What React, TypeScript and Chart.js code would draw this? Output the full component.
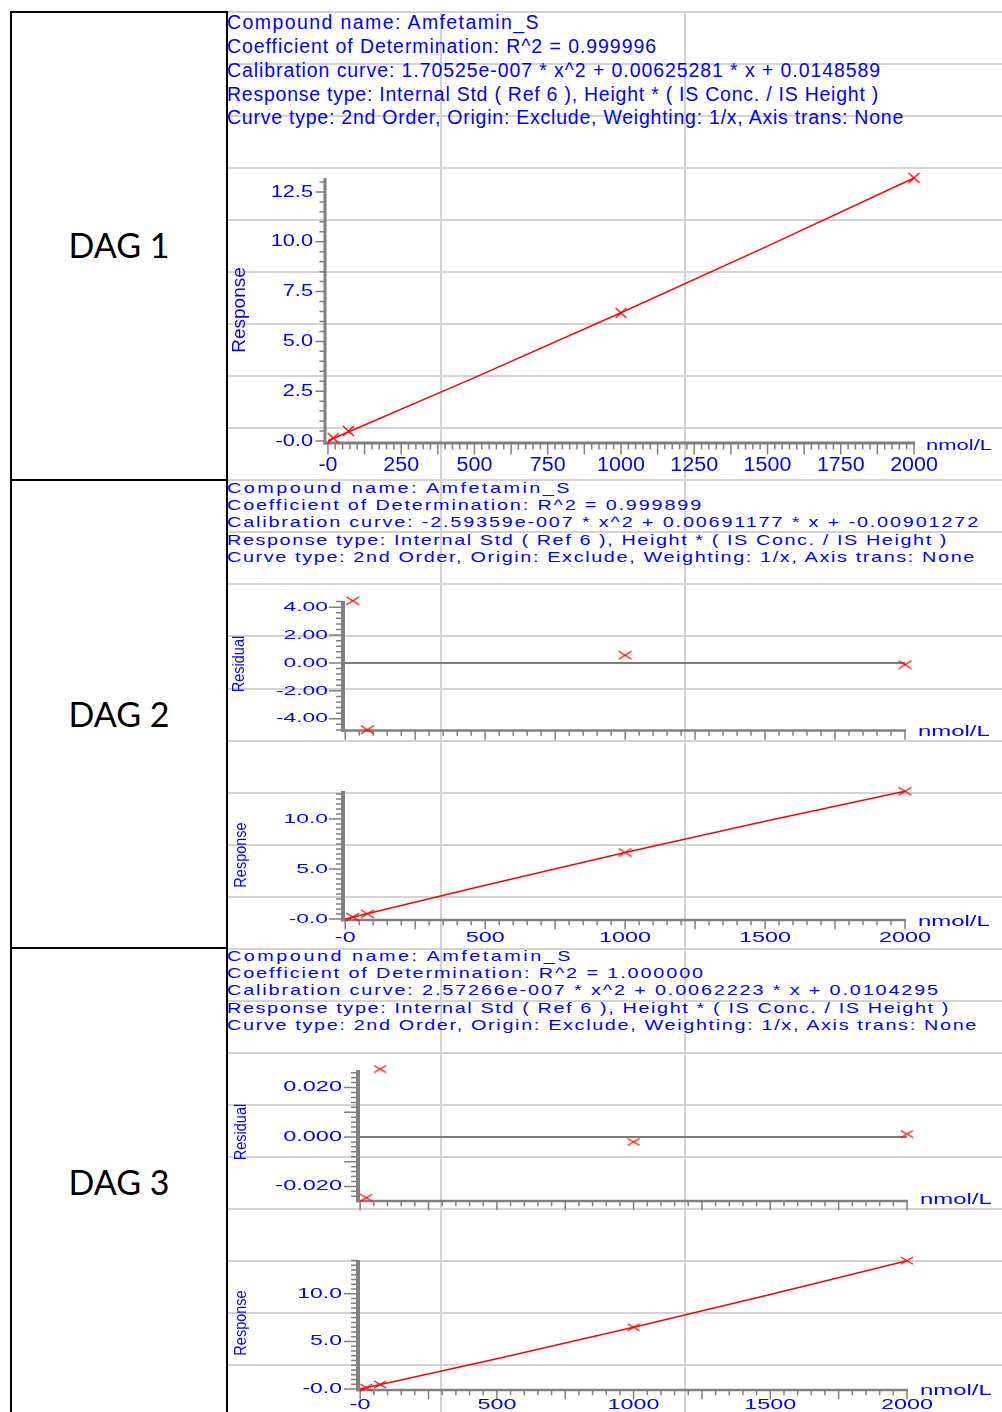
import React, { useEffect, useLayoutEffect, useRef } from 'react';
import { Chart, registerables } from 'chart.js';

Chart.register(...registerables);

// ---------------- data ----------------
const X_UNIT = 'nmol/L';
const DAG_NAMES = ['DAG 1', 'DAG 2', 'DAG 3'];

const DAG1_HEADER = [
  'Compound name: Amfetamin_S',
  'Coefficient of Determination: R^2 = 0.999996',
  'Calibration curve: 1.70525e-007 * x^2 + 0.00625281 * x + 0.0148589',
  'Response type: Internal Std ( Ref 6 ), Height * ( IS Conc. / IS Height )',
  'Curve type: 2nd Order, Origin: Exclude, Weighting: 1/x, Axis trans: None',
];
const DAG2_HEADER = [
  'Compound name: Amfetamin_S',
  'Coefficient of Determination: R^2 = 0.999899',
  'Calibration curve: -2.59359e-007 * x^2 + 0.00691177 * x + -0.00901272',
  'Response type: Internal Std ( Ref 6 ), Height * ( IS Conc. / IS Height )',
  'Curve type: 2nd Order, Origin: Exclude, Weighting: 1/x, Axis trans: None',
];
const DAG3_HEADER = [
  'Compound name: Amfetamin_S',
  'Coefficient of Determination: R^2 = 1.000000',
  'Calibration curve: 2.57266e-007 * x^2 + 0.0062223 * x + 0.0104295',
  'Response type: Internal Std ( Ref 6 ), Height * ( IS Conc. / IS Height )',
  'Curve type: 2nd Order, Origin: Exclude, Weighting: 1/x, Axis trans: None',
];

// DAG 1
const DAG1_CONC = [18, 70, 1000, 2000];
const DAG1_RESPONSE = [0.15, 0.5, 6.43, 13.2];
const DAG1_CURVE_CONC = [0, 500, 1000, 1500, 2000];
const DAG1_CURVE_RESPONSE = [0.015, 3.18, 6.44, 9.78, 13.2];
const DAG1_X_TICKS = [0, 250, 500, 750, 1000, 1250, 1500, 1750, 2000];
const DAG1_X_LABELS = ['-0', '250', '500', '750', '1000', '1250', '1500', '1750', '2000'];
const DAG1_Y_TICKS = [0, 2.5, 5, 7.5, 10, 12.5];
const DAG1_Y_LABELS = ['-0.0', '2.5', '5.0', '7.5', '10.0', '12.5'];

// DAG 2
const DAG2_CONC = [27, 79, 1000, 2000];
const DAG2_RESPONSE = [0.2, 0.52, 6.65, 12.78];
const DAG2_RESIDUAL = [4.46, -4.78, 0.55, -0.12];
const DAG2_CURVE_CONC = [0, 500, 1000, 1500, 2000];
const DAG2_CURVE_RESPONSE = [-0.01, 3.38, 6.64, 9.78, 12.78];
const DAG2_RES_Y_TICKS = [-4, -2, 0, 2, 4];
const DAG2_RES_Y_LABELS = ['-4.00', '-2.00', '0.00', '2.00', '4.00'];
const DAG2_Y_TICKS = [0, 5, 10];
const DAG2_Y_LABELS = ['-0.0', '5.0', '10.0'];

// DAG 3
const DAG3_CONC = [22, 73, 1000, 2000];
const DAG3_RESPONSE = [0.15, 0.48, 6.49, 13.48];
const DAG3_RESIDUAL = [-0.0246, 0.0275, -0.002, 0.0012];
const DAG3_CURVE_CONC = [0, 500, 1000, 1500, 2000];
const DAG3_CURVE_RESPONSE = [0.01, 3.19, 6.49, 9.92, 13.48];
const DAG3_RES_Y_TICKS = [-0.02, 0, 0.02];
const DAG3_RES_Y_LABELS = ['-0.020', '0.000', '0.020'];
const DAG3_Y_TICKS = [0, 5, 10];
const DAG3_Y_LABELS = ['-0.0', '5.0', '10.0'];

// shared x ticks for DAG 2 / 3
const X_TICKS_500 = [0, 500, 1000, 1500, 2000];
const X_LABELS_500 = ['-0', '500', '1000', '1500', '2000'];

// ---------------- styles ----------------
const BLUE = '#0000ff';
const RED = '#ff0000';
const AXIS_GRAY = '#808080';
const GRID_GRAY = '#d3d3d3';
const FONT = '"Liberation Sans", Arial, sans-serif';

type Box = { left: number; top: number; width: number; height: number };
type Area = { left: number; top: number; right: number; bottom: number };
type AxisSpec = {
  min: number; max: number;
  ticks: number[]; labels: string[];
  majorStep: number; minorStep: number;
  majorLen: number; minorLen: number;
  font: number; sx: number; labelPos: number; lineW: number;
};
type PanelSpec = {
  box: Box; area: Area; x: AxisSpec; y: AxisSpec;
  title: { text: string; cx: number; cy: number; font: number; thick: number };
  unit: { left: number; cy: number; font: number; sx: number };
  residual: boolean;
  px: number[]; py: number[];
  cx?: number[]; cy?: number[];
  marker: { w: number; h: number };
};

function xAxis(o: Partial<AxisSpec>): AxisSpec {
  return {
    min: -8, max: 2000, ticks: [], labels: [], majorStep: 250, minorStep: 50,
    majorLen: 8, minorLen: 4, font: 14, sx: 1.67, labelPos: 0, lineW: 2.5, ...o,
  } as AxisSpec;
}

const PANELS: PanelSpec[] = [
  {
    box: { left: 228, top: 140, width: 774, height: 340 },
    area: { left: 325, top: 178, right: 914, bottom: 443 },
    x: xAxis({ min: -10, max: 2000, ticks: DAG1_X_TICKS, labels: DAG1_X_LABELS, majorStep: 125, minorStep: 25, majorLen: 10, minorLen: 5, font: 19.5, sx: 1.1, labelPos: 465.5, lineW: 3 }),
    y: { min: -0.1, max: 13.2, ticks: DAG1_Y_TICKS, labels: DAG1_Y_LABELS, majorStep: 2.5, minorStep: 0.5, majorLen: 8, minorLen: 4, font: 17, sx: 1.28, labelPos: 313, lineW: 3 },
    title: { text: 'Response', cx: 240, cy: 310, font: 19, thick: 1.0 },
    unit: { left: 926, cy: 446, font: 15.5, sx: 1.42 },
    residual: false,
    px: DAG1_CONC, py: DAG1_RESPONSE, cx: DAG1_CURVE_CONC, cy: DAG1_CURVE_RESPONSE,
    marker: { w: 11, h: 10 },
  },
  {
    box: { left: 228, top: 585, width: 774, height: 160 },
    area: { left: 343, top: 601, right: 905, bottom: 730.5 },
    x: xAxis({}),
    y: { min: -4.84, max: 4.44, ticks: DAG2_RES_Y_TICKS, labels: DAG2_RES_Y_LABELS, majorStep: 2, minorStep: 0.4, majorLen: 12, minorLen: 5, font: 13.5, sx: 1.69, labelPos: 328, lineW: 4 },
    title: { text: 'Residual', cx: 239, cy: 664, font: 14.5, thick: 1.15 },
    unit: { left: 918, cy: 732, font: 14.5, sx: 1.65 },
    residual: true,
    px: DAG2_CONC, py: DAG2_RESIDUAL,
    marker: { w: 13, h: 8 },
  },
  {
    box: { left: 228, top: 770, width: 774, height: 180 },
    area: { left: 343, top: 791, right: 905, bottom: 920 },
    x: xAxis({ ticks: X_TICKS_500, labels: X_LABELS_500, labelPos: 937.7 }),
    y: { min: -0.1, max: 12.8, ticks: DAG2_Y_TICKS, labels: DAG2_Y_LABELS, majorStep: 5, minorStep: 0.5, majorLen: 12, minorLen: 5, font: 13.5, sx: 1.69, labelPos: 328, lineW: 4 },
    title: { text: 'Response', cx: 241, cy: 855, font: 14.5, thick: 1.2 },
    unit: { left: 918, cy: 922, font: 14.5, sx: 1.65 },
    residual: false,
    px: DAG2_CONC, py: DAG2_RESPONSE, cx: DAG2_CURVE_CONC, cy: DAG2_CURVE_RESPONSE,
    marker: { w: 13, h: 8 },
  },
  {
    box: { left: 228, top: 1055, width: 774, height: 165 },
    area: { left: 358, top: 1070, right: 907, bottom: 1201 },
    x: xAxis({}),
    y: { min: -0.0259, max: 0.0271, ticks: DAG3_RES_Y_TICKS, labels: DAG3_RES_Y_LABELS, majorStep: 0.01, minorStep: 0.002, majorLen: 12, minorLen: 5, font: 14, sx: 1.68, labelPos: 342, lineW: 4 },
    title: { text: 'Residual', cx: 241, cy: 1132, font: 14.5, thick: 1.15 },
    unit: { left: 920, cy: 1200, font: 14.5, sx: 1.65 },
    residual: true,
    px: DAG3_CONC, py: DAG3_RESIDUAL,
    marker: { w: 12, h: 7 },
  },
  {
    box: { left: 228, top: 1240, width: 774, height: 172 },
    area: { left: 358, top: 1260, right: 907, bottom: 1390 },
    x: xAxis({ ticks: X_TICKS_500, labels: X_LABELS_500, labelPos: 1405.5 }),
    y: { min: -0.1, max: 13.55, ticks: DAG3_Y_TICKS, labels: DAG3_Y_LABELS, majorStep: 5, minorStep: 0.5, majorLen: 12, minorLen: 5, font: 14, sx: 1.64, labelPos: 342, lineW: 4 },
    title: { text: 'Response', cx: 241, cy: 1323, font: 14.5, thick: 1.2 },
    unit: { left: 920, cy: 1391, font: 14.5, sx: 1.65 },
    residual: false,
    px: DAG3_CONC, py: DAG3_RESPONSE, cx: DAG3_CURVE_CONC, cy: DAG3_CURVE_RESPONSE,
    marker: { w: 12, h: 7 },
  },
];

const HEADERS = [
  { lines: DAG1_HEADER, top: 11.4, font: 19.5, lh: 23.7, glyph: 1.0, rights: [540, 657, 881, 879, 904] },
  { lines: DAG2_HEADER, top: 478.9, font: 15, lh: 17.2, glyph: 1.32, rights: [572, 703, 980, 948, 976] },
  { lines: DAG3_HEADER, top: 946.9, font: 15, lh: 17.2, glyph: 1.32, rights: [573, 705, 940, 950, 978] },
];
const HEADER_LEFT = 227;
const DAG_LABEL_TOPS = [228, 697, 1165];

// ---------------- helpers ----------------
function isMajor(v: number, step: number) {
  const r = v / step;
  return Math.abs(r - Math.round(r)) < 1e-6;
}

function makeMarker(w: number, h: number) {
  const c = document.createElement('canvas');
  c.width = w + 2;
  c.height = h + 2;
  const g = c.getContext('2d') as CanvasRenderingContext2D;
  g.strokeStyle = RED;
  g.lineWidth = 1.4;
  g.beginPath();
  g.moveTo(1, 1); g.lineTo(w + 1, h + 1);
  g.moveTo(w + 1, 1); g.lineTo(1, h + 1);
  g.stroke();
  return c;
}

function scaledText(ctx: CanvasRenderingContext2D, text: string, x: number, y: number, sx: number, align: CanvasTextAlign) {
  ctx.save();
  ctx.translate(x, y);
  ctx.scale(sx, 1);
  ctx.textAlign = align;
  ctx.fillText(text, 0, 0);
  ctx.restore();
}

function makeAxesPlugin(p: PanelSpec) {
  return {
    id: 'labAxes',
    beforeDatasetsDraw(chart: any) {
      const ctx = chart.ctx as CanvasRenderingContext2D;
      const xs = chart.scales.x;
      const ys = chart.scales.y;
      const { left: L, top: T, bottom: B } = chart.chartArea;
      const ox = p.box.left;
      const oy = p.box.top;
      const xEnd = xs.getPixelForValue(p.x.max);
      ctx.save();

      // zero line for residual plots
      if (p.residual) {
        const y0 = ys.getPixelForValue(0);
        ctx.fillStyle = '#7a7a7a';
        ctx.fillRect(L, y0 - 1, xEnd - L, 2);
      }

      // axis lines
      ctx.fillStyle = AXIS_GRAY;
      ctx.fillRect(L - p.y.lineW / 2, T, p.y.lineW, B - T + p.x.lineW / 2);
      ctx.fillRect(L - p.y.lineW / 2, B - p.x.lineW / 2, xEnd - L + p.y.lineW / 2 + 1, p.x.lineW);

      // tick marks
      ctx.strokeStyle = AXIS_GRAY;
      ctx.lineWidth = 1.5;
      ctx.beginPath();
      const nx = Math.round(p.x.max / p.x.minorStep);
      for (let i = 0; i <= nx; i++) {
        const v = i * p.x.minorStep;
        const xp = xs.getPixelForValue(v);
        const len = isMajor(v, p.x.majorStep) ? p.x.majorLen : p.x.minorLen;
        ctx.moveTo(xp, B);
        ctx.lineTo(xp, B + p.x.lineW / 2 + len);
      }
      const i0 = Math.ceil(p.y.min / p.y.minorStep - 1e-9);
      const i1 = Math.floor(p.y.max / p.y.minorStep + 1e-9);
      for (let i = i0; i <= i1; i++) {
        const v = i * p.y.minorStep;
        const yp = ys.getPixelForValue(v);
        const len = isMajor(v, p.y.majorStep) ? p.y.majorLen : p.y.minorLen;
        ctx.moveTo(L - p.y.lineW / 2 - len, yp);
        ctx.lineTo(L, yp);
      }
      ctx.stroke();

      // tick labels
      ctx.fillStyle = BLUE;
      ctx.textBaseline = 'middle';
      ctx.font = `${p.y.font}px ${FONT}`;
      p.y.ticks.forEach((v, i) => {
        scaledText(ctx, p.y.labels[i], p.y.labelPos - ox, ys.getPixelForValue(v), p.y.sx, 'right');
      });
      ctx.font = `${p.x.font}px ${FONT}`;
      p.x.ticks.forEach((v, i) => {
        scaledText(ctx, p.x.labels[i], xs.getPixelForValue(v), p.x.labelPos - oy, p.x.sx, 'center');
      });

      // unit label
      ctx.font = `${p.unit.font}px ${FONT}`;
      scaledText(ctx, X_UNIT, p.unit.left - ox, p.unit.cy - oy, p.unit.sx, 'left');

      // axis title
      ctx.font = `${p.title.font}px ${FONT}`;
      ctx.save();
      ctx.translate(p.title.cx - ox, p.title.cy - oy);
      ctx.scale(p.title.thick, 1);
      ctx.rotate(-Math.PI / 2);
      ctx.textAlign = 'center';
      ctx.fillText(p.title.text, 0, 0);
      ctx.restore();

      ctx.restore();
    },
  };
}

function buildConfig(p: PanelSpec): any {
  const datasets: any[] = [];
  if (p.cx && p.cy) {
    datasets.push({
      type: 'line',
      data: p.cx.map((x, i) => ({ x, y: (p.cy as number[])[i] })),
      borderColor: RED,
      borderWidth: 1.5,
      pointRadius: 0,
      fill: false,
      tension: 0,
      clip: false,
      order: 2,
    });
  }
  datasets.push({
    type: 'scatter',
    data: p.px.map((x, i) => ({ x, y: p.py[i] })),
    pointStyle: makeMarker(p.marker.w, p.marker.h),
    pointRadius: 6,
    borderWidth: 0,
    showLine: false,
    clip: false,
    order: 1,
  });
  const pad = {
    left: p.area.left - p.box.left,
    top: p.area.top - p.box.top,
    right: p.box.left + p.box.width - p.area.right,
    bottom: p.box.top + p.box.height - p.area.bottom,
  };
  const hidden = {
    grid: { display: false, drawTicks: false },
    border: { display: false },
    ticks: { display: false },
    title: { display: false },
  };
  return {
    type: 'scatter',
    data: { datasets },
    options: {
      responsive: false,
      maintainAspectRatio: false,
      animation: false,
      events: [],
      layout: { padding: pad, autoPadding: false },
      plugins: { legend: { display: false }, tooltip: { enabled: false } },
      scales: {
        x: { type: 'linear', min: p.x.min, max: p.x.max, ...hidden, afterFit: (s: any) => { s.height = 0; } },
        y: { type: 'linear', min: p.y.min, max: p.y.max, ...hidden, afterFit: (s: any) => { s.width = 0; } },
      },
    },
    plugins: [makeAxesPlugin(p)],
  };
}

// ---------------- components ----------------
function Panel({ spec }: { spec: PanelSpec }) {
  const ref = useRef<HTMLCanvasElement>(null);
  useEffect(() => {
    const canvas = ref.current;
    if (!canvas) return;
    const chart = new Chart(canvas, buildConfig(spec));
    return () => chart.destroy();
  }, [spec]);
  return (
    <canvas
      ref={ref}
      width={spec.box.width}
      height={spec.box.height}
      style={{ position: 'absolute', left: spec.box.left, top: spec.box.top, width: spec.box.width, height: spec.box.height }}
    />
  );
}

function Header({ lines, top, font, lh, glyph, rights }: { lines: string[]; top: number; font: number; lh: number; glyph: number; rights: number[] }) {
  const refs = useRef<(HTMLSpanElement | null)[]>([]);
  useLayoutEffect(() => {
    lines.forEach((t, i) => {
      const el = refs.current[i];
      if (!el) return;
      el.style.letterSpacing = '0px';
      // on-screen width includes the scaleX transform; divide it out
      const natural = el.getBoundingClientRect().width / glyph;
      const ls = ((rights[i] - HEADER_LEFT) / glyph - natural) / t.length;
      el.style.letterSpacing = `${ls}px`;
    });
  }, [lines, rights, glyph]);
  return (
    <div
      style={{
        position: 'absolute', left: HEADER_LEFT, top, fontFamily: FONT, fontSize: font,
        lineHeight: `${lh}px`, color: BLUE, whiteSpace: 'pre',
        transform: `scaleX(${glyph})`, transformOrigin: 'left top',
      }}
    >
      {lines.map((t, i) => (
        <div key={i}>
          <span ref={(el) => { refs.current[i] = el; }}>{t}</span>
        </div>
      ))}
    </div>
  );
}

export default function App() {
  const hLines: number[] = [];
  for (let k = 0; k <= 26; k++) hLines.push(Math.round(12 + 52.04 * k));
  return (
    <div style={{ position: 'absolute', left: 0, top: 0, width: 1002, height: 1412, background: '#fff', overflow: 'hidden' }}>
      {hLines.map((y) => (
        <div key={`h${y}`} style={{ position: 'absolute', left: 226, top: y - 1, width: 776, height: 2, background: GRID_GRAY }} />
      ))}
      {[441, 685].map((x) => (
        <div key={`v${x}`} style={{ position: 'absolute', left: x - 1, top: 11, width: 2, height: 1401, background: GRID_GRAY }} />
      ))}
      <div style={{ position: 'absolute', left: 10, top: 11, width: 218, height: 1420, border: '2px solid #000', boxSizing: 'border-box', background: '#fff' }} />
      {[479, 947].map((y) => (
        <div key={`s${y}`} style={{ position: 'absolute', left: 10, top: y, width: 218, height: 2, background: '#000' }} />
      ))}
      {DAG_NAMES.map((name, i) => (
        <div
          key={name}
          style={{
            position: 'absolute', left: 12, top: DAG_LABEL_TOPS[i], width: 214, textAlign: 'center',
            fontFamily: 'Lato, "Open Sans", sans-serif', fontSize: 34, lineHeight: '34px', color: '#000',
          }}
        >
          {name}
        </div>
      ))}
      {HEADERS.map((h, i) => (
        <Header key={i} lines={h.lines} top={h.top} font={h.font} lh={h.lh} glyph={h.glyph} rights={h.rights} />
      ))}
      {PANELS.map((p, i) => (
        <Panel key={i} spec={p} />
      ))}
    </div>
  );
}
